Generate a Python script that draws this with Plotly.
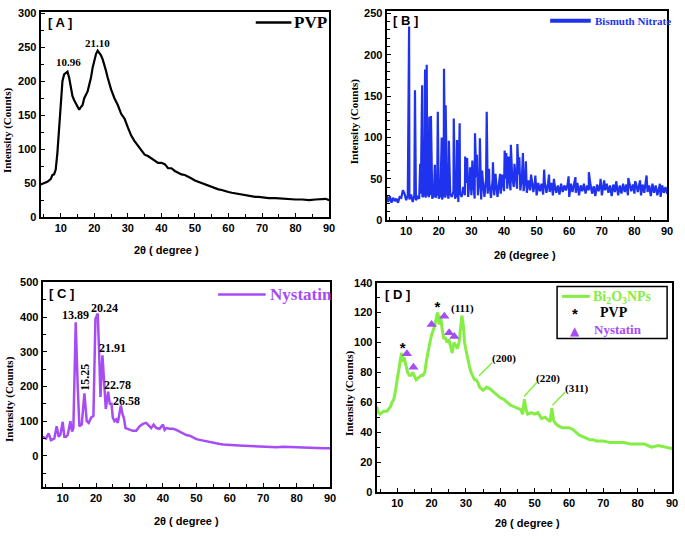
import plotly.graph_objects as go

W, H = 685, 539

# ---------------- data ----------------
# [A] PVP
pvp_x = [4, 5, 6, 7, 7.5, 8, 8.5, 9, 9.5, 10, 10.5, 11, 11.5, 12, 12.5, 13, 13.5, 14, 14.5, 15, 15.5, 16,
         16.5, 17, 17.5, 18, 18.5, 19, 19.5, 20, 20.5, 21, 21.5, 22, 22.5, 23, 23.5, 24, 24.5, 25, 26, 27,
         28, 29, 30, 31, 32, 33, 34, 35, 36, 37, 38, 39, 40, 41, 42, 43, 44, 45, 46, 47, 48, 49, 50, 51,
         52, 53, 54, 55, 56, 57, 58, 59, 60, 61, 62, 63, 64, 65, 66, 67, 68, 69, 70, 72, 74, 76, 78, 80,
         82, 84, 86, 88, 89, 90]
pvp_y = [48, 50, 52, 56, 62, 63, 70, 95, 130, 170, 200, 210, 212, 214, 205, 190, 178, 172, 168, 162, 158, 162,
         165, 175, 180, 185, 195, 205, 220, 232, 240, 245, 242, 238, 232, 225, 215, 205, 195, 188, 175, 165,
         152, 145, 132, 120, 112, 105, 98, 92, 90, 87, 83, 80, 80, 78, 72, 72, 68, 65, 63, 62, 60, 57, 54, 52,
         50, 48, 46, 45, 43, 41, 40, 38, 37, 36, 35, 34, 33, 32, 31, 31, 30, 30, 29, 28, 28, 27, 27, 26,
         26, 25, 26, 26, 27, 25]

# [B] Bismuth nitrate: background noise (every 0.5 deg from 4 to 90) + sharp peaks
bn_base_x = [4 + 0.5 * i for i in range(173)]
bn_base_y = [30, 22, 29, 21, 27, 23, 26, 21, 28, 27,
             36, 32, 24, 30, 25, 31, 22, 30, 24, 28,
             26, 32, 28, 30, 27, 32, 28, 30, 26, 31,
             27, 33, 26, 30, 25, 32, 27, 34, 26, 32,
             28, 35, 26, 30, 22, 33, 28, 40, 30, 45,
             28, 50, 30, 48, 26, 52, 30, 50, 25, 48,
             28, 50, 32, 45, 27, 48, 30, 50, 28, 46,
             32, 55, 35, 50, 38, 55, 36, 52, 40, 56,
             38, 55, 36, 52, 35, 50, 33, 48, 36, 50,
             34, 47, 30, 45, 35, 44, 31, 46, 33, 44,
             34, 45, 30, 43, 33, 42, 31, 44, 34, 42,
             36, 43, 28, 44, 34, 42, 33, 45, 30, 42,
             35, 44, 32, 42, 36, 43, 32, 41, 29, 43,
             35, 44, 30, 42, 36, 44, 33, 42, 29, 43,
             34, 44, 30, 42, 32, 44, 34, 43, 30, 44,
             35, 43, 32, 44, 34, 42, 30, 43, 33, 45,
             34, 42, 29, 44, 33, 42, 30, 41, 28, 42,
             33, 40, 32]
bn_peak_x = [10.9, 12.7, 14.3, 14.9, 15.8, 16.3, 17.1, 17.6, 18.8, 19.7, 20.9, 21.6, 22.1, 23.1, 24.6,
             25.6, 26.4, 28.1, 28.7, 29.6, 30.3, 31.1, 31.7, 32.6, 33.3, 34.7, 35.4, 36.6, 37.4, 38.8,
             40.2, 40.7, 41.4, 42.1, 43.2, 44.1, 44.7, 45.8, 46.7, 48.3, 49.6, 52.3, 53.8, 55.3, 59.8,
             61.9, 66.0, 69.6, 70.7, 74.4, 78.1, 80.2, 81.7, 83.7, 87.8]
bn_peak_y = [234, 157, 68, 163, 182, 188, 125, 126, 67, 131, 100, 183, 139, 96, 123,
             97, 117, 77, 75, 64, 72, 105, 79, 99, 60, 131, 62, 70, 56, 56,
             84, 81, 77, 91, 68, 92, 76, 81, 71, 55, 54, 61, 55, 50, 53,
             52, 58, 50, 48, 47, 51, 47, 48, 54, 44]

# [C] Nystatin
nys_x = [4, 5, 5.8, 6.5, 7.5, 8.2, 8.8, 9.3, 10.0, 10.5, 11, 11.5, 12.3, 12.8, 13.2, 13.9, 14.5, 15.0, 15.7,
         16.5, 17.2, 17.8, 18.5, 19.2, 19.8, 20.5, 20.9, 21.3, 21.9, 22.4, 22.9, 23.6, 24.1, 24.6, 25.0,
         25.5, 26.0, 26.5, 27.4, 27.9, 28.3, 28.8, 30, 31, 32, 33, 34, 35, 36, 36.5, 37.2, 38, 39, 40, 40.5,
         41, 42, 43, 44, 45, 46, 47, 48, 49, 50, 51, 52, 53, 54, 55, 56, 57, 58, 59, 60, 62, 64, 66, 68,
         70, 72, 74, 76, 78, 80, 82, 84, 86, 88, 90]
nys_y = [55, 50, 65, 45, 50, 85, 55, 60, 98, 55, 55, 60, 100, 70, 80, 385, 200, 85, 90,
         180, 100, 95, 110, 115, 395, 410, 300, 170, 290, 200, 135, 185, 150, 150, 110,
         100, 105, 95, 145, 120, 110, 80, 75, 72, 72, 85, 92, 95, 85, 80, 90, 80, 78, 90, 75,
         80, 78, 78, 75, 70, 65, 60, 58, 52, 48, 46, 44, 42, 38, 36, 36, 34, 33, 32, 31, 30, 29, 28, 27,
         26, 26, 25, 26, 25, 25, 24, 23, 23, 22, 22]

# [D] Bi2O3 NPs
bi_x = [4, 4.5, 5, 6, 7, 8, 8.5, 9, 9.5, 10, 10.5, 11, 11.3, 11.7, 12, 12.5, 13, 13.5, 14, 14.5, 15, 15.5,
        16, 17, 17.5, 18, 18.5, 19, 19.5, 20, 20.5, 21, 21.5, 21.8, 22.2, 22.6, 23, 23.5, 24, 24.5, 25,
        25.5, 26, 26.5, 27, 27.5, 28, 28.5, 28.8, 29.2, 29.6, 30, 30.5, 31, 31.5, 32, 32.5, 33, 33.5, 34,
        35, 36, 37, 38, 39, 40, 41, 42, 43, 44, 45, 46, 46.5, 47, 47.5, 48, 49, 50, 51, 52, 53, 54, 54.5,
        55, 55.5, 56, 57, 58, 59, 60, 61, 62, 63, 64, 65, 66, 67, 68, 70, 72, 74, 76, 78, 80, 82, 84, 86,
        88, 90]
bi_y = [57, 53, 52, 54, 54, 57, 60, 62, 68, 75, 85, 90, 93, 87, 90, 85, 80, 78, 78, 80, 78, 75,
        76, 78, 78, 80, 88, 95, 100, 105, 108, 112, 118, 120, 112, 118, 110, 103, 103, 100, 102,
        97, 93, 100, 98, 96, 100, 113, 118, 112, 100, 95, 88, 84, 80, 78, 75, 75, 73, 70,
        68, 70, 69, 67, 65, 63, 62, 60, 58, 57, 56, 55, 52, 62, 55, 52, 53, 52, 53, 49, 50, 48, 47,
        56, 48, 46, 44, 43, 43, 43, 42, 40, 38, 37, 36, 35, 35, 34, 34, 33, 33, 33, 32, 32, 32, 30, 31,
        30, 29]
bi_pvp_x = [11.6, 21.7]
bi_pvp_y = [95.5, 123]
bi_nys_x = [12.8, 14.7, 20.0, 23.7, 25.1, 26.6]
bi_nys_y = [92.5, 83.5, 112, 117.5, 106.5, 104]

x_ticks = [10, 20, 30, 40, 50, 60, 70, 80, 90]

# -------------- colours / fonts --------------
BLACK = "#000000"
BLUE = "#1f32ee"
PURPLE = "#a64cf4"
GREEN = "#84ee44"
SANS = "Liberation Sans, Arial, sans-serif"
SERIF = "Liberation Serif, Times New Roman, serif"


def px(xp):
    return xp / W


def py(yp):
    return 1 - yp / H


fig = go.Figure()

# merge bismuth nitrate background and peaks
bn = sorted(list(zip(bn_base_x, bn_base_y)) + list(zip(bn_peak_x, bn_peak_y)))
bn_x = [p[0] for p in bn]
bn_y = [p[1] for p in bn]

fig.add_trace(go.Scatter(x=pvp_x, y=pvp_y, mode="lines", line=dict(color=BLACK, width=2.2),
                         xaxis="x", yaxis="y", showlegend=False))
fig.add_trace(go.Scatter(x=bn_x, y=bn_y, mode="lines", line=dict(color=BLUE, width=2.2),
                         xaxis="x2", yaxis="y2", showlegend=False))
fig.add_trace(go.Scatter(x=nys_x, y=nys_y, mode="lines", line=dict(color=PURPLE, width=2.5),
                         xaxis="x3", yaxis="y3", showlegend=False))
fig.add_trace(go.Scatter(x=bi_x, y=bi_y, mode="lines", line=dict(color=GREEN, width=3),
                         xaxis="x4", yaxis="y4", showlegend=False))
fig.add_trace(go.Scatter(x=bi_nys_x, y=bi_nys_y, mode="markers",
                         marker=dict(symbol="triangle-up", size=9, color=PURPLE),
                         xaxis="x4", yaxis="y4", showlegend=False))
fig.add_trace(go.Scatter(x=bi_pvp_x, y=bi_pvp_y, mode="text", text=["*", "*"],
                         textfont=dict(family=SANS, size=15, color=BLACK, weight="bold"),
                         xaxis="x4", yaxis="y4", showlegend=False))

tickfont = dict(family=SANS, size=11, color=BLACK, weight="bold")


def xaxis(domain, anchor):
    return dict(domain=domain, anchor=anchor, range=[4, 90], tickvals=x_ticks, ticks="inside",
                ticklen=4, tickwidth=1, tickcolor=BLACK, showline=True, linecolor=BLACK, linewidth=2,
                mirror=True, showgrid=False, zeroline=False, tickfont=tickfont,
                minor=dict(dtick=5, tick0=0, ticks="inside", ticklen=3, tickcolor=BLACK))


def yaxis(domain, anchor, rng, dtick, mdtick):
    return dict(domain=domain, anchor=anchor, range=rng, dtick=dtick, tick0=0, ticks="inside",
                ticklen=4, tickwidth=1, tickcolor=BLACK, showline=True, linecolor=BLACK, linewidth=2,
                mirror=True, showgrid=False, zeroline=False, tickfont=tickfont,
                minor=dict(dtick=mdtick, tick0=0, ticks="inside", ticklen=3, tickcolor=BLACK))


fig.update_layout(
    width=W, height=H, margin=dict(l=0, r=0, t=0, b=0),
    paper_bgcolor="white", plot_bgcolor="white",
    xaxis=xaxis([px(41), px(332)], "y"),
    yaxis=yaxis([py(216), py(6)], "x", [0, 302], 50, 25),
    xaxis2=xaxis([px(390), px(673)], "y2"),
    yaxis2=yaxis([py(219), py(5)], "x2", [0, 253], 50, 10),
    xaxis3=xaxis([px(43), px(333)], "y3"),
    yaxis3=yaxis([py(492), py(282)], "x3", [-90, 502], 100, 50),
    xaxis4=xaxis([px(380), px(678)], "y4"),
    yaxis4=yaxis([py(497), py(283)], "x4", [0, 140], 20, 10),
)

ann = []


def txt(x, y, t, size=11, color=BLACK, family=SERIF, bold=True, angle=0, xref="paper", yref="paper",
        xanchor="center"):
    ann.append(dict(x=x, y=y, xref=xref, yref=yref, text=t, showarrow=False, textangle=angle,
                    xanchor=xanchor, yanchor="middle",
                    font=dict(family=family, size=size, color=color, weight="bold" if bold else "normal")))


# axis titles
for (xc, yc) in [(168, 250), (188, 527), (532, 529)]:
    txt(px(xc), py(yc), "2θ ( degree )", size=11, family=SANS)
txt(px(530), py(255), "2θ (degree )", size=11, family=SANS)
for (xc, yc) in [(7, 127), (358, 118), (9, 402), (352, 396)]:
    txt(px(xc), py(yc), "Intensity (Counts)", size=11, family=SERIF, angle=-90)

# panel labels
txt(px(46), py(17), "[ A ]", size=13, family=SANS, xanchor="left")
txt(px(394), py(15), "[ B ]", size=13, family=SANS, xanchor="left")
txt(px(47), py(294), "[ C ]", size=13, family=SANS, xanchor="left")
txt(px(386), py(295), "[ D ]", size=13, family=SANS, xanchor="left")

# in-plot legends
shapes = []
shapes.append(dict(type="line", xref="paper", yref="paper", x0=px(258), x1=px(294), y0=py(17), y1=py(17),
                   line=dict(color=BLACK, width=2.5)))
txt(px(295), py(17), "PVP", size=17, xanchor="left")
shapes.append(dict(type="line", xref="paper", yref="paper", x0=px(555), x1=px(596), y0=py(15), y1=py(15),
                   line=dict(color=BLUE, width=4)))
txt(px(598), py(15), "Bismuth Nitrate", size=11, color=BLUE, xanchor="left")
shapes.append(dict(type="line", xref="paper", yref="paper", x0=px(220), x1=px(268), y0=py(295), y1=py(295),
                   line=dict(color=PURPLE, width=2.5)))
txt(px(270), py(295), "Nystatin", size=17, color=PURPLE, xanchor="left")

# D legend box
shapes.append(dict(type="rect", xref="paper", yref="paper", x0=px(562), x1=px(673), y0=py(340), y1=py(287),
                   line=dict(color=BLACK, width=1.5), fillcolor="white", layer="below"))
shapes.append(dict(type="line", xref="paper", yref="paper", x0=px(567), x1=px(595), y0=py(297), y1=py(297),
                   line=dict(color=GREEN, width=3)))
txt(px(596), py(298), "Bi<sub>2</sub>O<sub>3</sub>NPs", size=14, color=GREEN, xanchor="left")
txt(px(580), py(315), "*", size=15, family=SANS)
txt(px(603), py(313), "PVP", size=14, xanchor="left")
txt(px(580), py(332), "▲", size=12, color=PURPLE, family="DejaVu Sans")
txt(px(597), py(331), "Nystatin", size=13, color=PURPLE, xanchor="left")

# peak labels A
txt(12.2, 228, "10.96", size=11, xref="x", yref="y")
txt(20.9, 256, "21.10", size=11, xref="x", yref="y")
# peak labels C
txt(13.9, 405, "13.89", size=12, xref="x3", yref="y3")
txt(22.6, 426, "20.24", size=12, xref="x3", yref="y3")
txt(24.8, 311, "21.91", size=12, xref="x3", yref="y3")
txt(16.8, 226, "15.25", size=12, xref="x3", yref="y3", angle=-90)
txt(26.5, 203, "22.78", size=12, xref="x3", yref="y3")
txt(29.0, 158, "26.58", size=12, xref="x3", yref="y3")
# Miller indices D
txt(28.9, 123, "(111)", size=11, xref="x4", yref="y4")
txt(41.0, 89, "(200)", size=11, xref="x4", yref="y4")
txt(54.0, 76, "(220)", size=11, xref="x4", yref="y4")
txt(62.4, 69, "(311)", size=11, xref="x4", yref="y4")
for (x0, y0, x1, y1) in [(33.8, 77.7, 37.6, 86.4), (46.9, 63.9, 50.6, 73.3), (55.2, 58, 58.8, 66.7)]:
    shapes.append(dict(type="line", xref="x4", yref="y4", x0=x0, y0=y0, x1=x1, y1=y1,
                       line=dict(color=GREEN, width=1.5)))

fig.update_layout(annotations=ann, shapes=shapes)
fig.write_html("out.html")
